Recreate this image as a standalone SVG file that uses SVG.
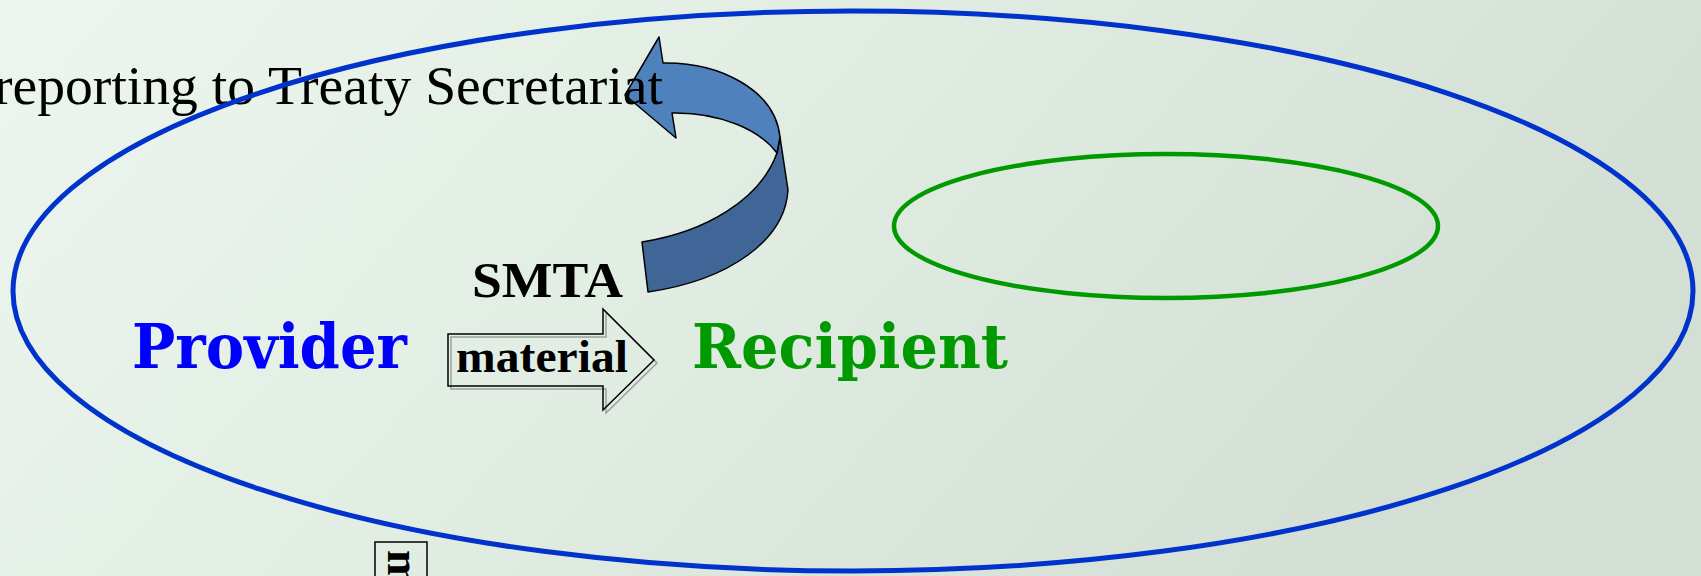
<svg xmlns="http://www.w3.org/2000/svg" width="1701" height="576" viewBox="0 0 1701 576">
  <defs>
    <linearGradient id="bg" x1="0" y1="0" x2="1" y2="0.3">
      <stop offset="0" stop-color="#ECF6EE"/>
      <stop offset="0.45" stop-color="#E2EDE4"/>
      <stop offset="1" stop-color="#D3DFD5"/>
    </linearGradient>
    <style>
      .serif { font-family: "Liberation Serif", "Times New Roman", serif; }
      .slab { font-family: "DejaVu Serif", serif; font-weight: bold; }
      .outline { fill: none; stroke: #000; stroke-width: 1.5; }
      .ribbon { stroke: #000; stroke-width: 1.5; stroke-linejoin: round; }
    </style>
  </defs>

  <rect x="0" y="0" width="1701" height="576" fill="url(#bg)"/>

  <g id="connectors">
    <g id="reporting-arrow">
      <path class="ribbon" fill="#3F6697" d="M780,137 L788,190 C785,240 730,280 648,292 L642,242 C705,232 760,200 777,153 Z"/>
      <path class="ribbon" fill="#4F81BD" d="M659,37 L663,63 C720,62 775,90 780,137 L777,153 C760,130 720,112 672,113 L676,138 L625,95 Z"/>
    </g>
    <g id="material-arrow">
      <polygon points="451,337 606,337 606,312 657,363 606,413 606,389 451,389" fill="none" stroke="#555" stroke-width="1.5" opacity="0.5"/>
      <polygon class="outline" points="448,334 603,334 603,309 654,360 603,410 603,386 448,386"/>
      <text class="serif" x="456" y="372" font-size="47" font-weight="bold" fill="#000" textLength="172" lengthAdjust="spacingAndGlyphs">material</text>
    </g>
  </g>

  <g id="reporting-label">
    <text class="serif" x="-6" y="104" font-size="55" fill="#000" textLength="669" lengthAdjust="spacingAndGlyphs">reporting to Treaty Secretariat</text>
  </g>

  <g id="outer-domain">
    <ellipse cx="853" cy="291" rx="840" ry="280" fill="none" stroke="#0033CC" stroke-width="5"/>
  </g>

  <g id="inner-domain">
    <ellipse cx="1166" cy="226" rx="272" ry="72" fill="none" stroke="#009900" stroke-width="4.5"/>
  </g>

  <g id="smta-label">
    <text class="serif" x="472" y="297" font-size="50" font-weight="bold" fill="#000" textLength="151" lengthAdjust="spacingAndGlyphs">SMTA</text>
  </g>

  <g id="provider">
    <text class="slab" x="132" y="368" font-size="62" fill="#0000FF" textLength="275" lengthAdjust="spacingAndGlyphs">Provider</text>
  </g>

  <g id="recipient">
    <text class="slab" x="692" y="368" font-size="62" fill="#009900" textLength="316" lengthAdjust="spacingAndGlyphs">Recipient</text>
  </g>

  <g id="bottom-box">
    <rect class="outline" x="375" y="542" width="52" height="60"/>
    <text class="serif" transform="translate(388,550) rotate(90)" x="0" y="0" font-size="46" font-weight="bold" fill="#000">m</text>
  </g>
</svg>
